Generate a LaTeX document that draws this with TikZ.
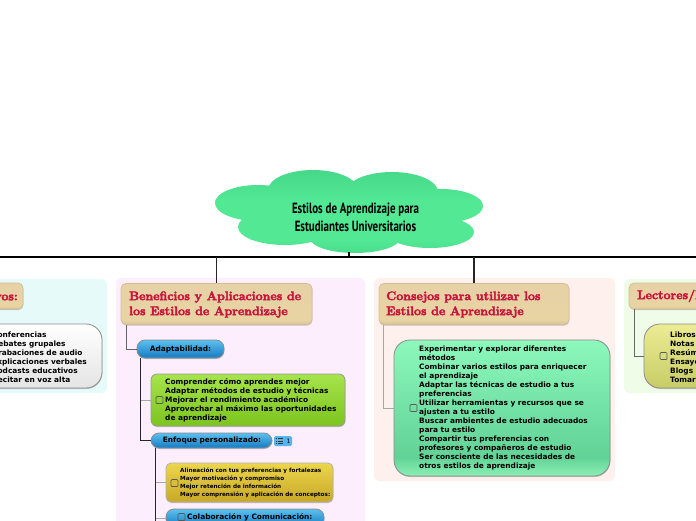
\documentclass[tikz,border=0pt]{standalone}
\usepackage{fontspec}
\usetikzlibrary{shadows}
\newfontfamily\bodyfont{DejaVu Sans}
\newfontfamily\titlefont[FakeStretch=0.74]{PT Sans}
\definecolor{headred}{HTML}{C8143C}
\definecolor{HB}{HTML}{D4C094}\definecolor{HM}{HTML}{E8D3A2}\definecolor{HT}{HTML}{E6D2A6}
\definecolor{PB}{HTML}{2A86BE}\definecolor{PM}{HTML}{1E84C8}\definecolor{PT}{HTML}{58BCEC}
\definecolor{GB}{HTML}{7CC41E}\definecolor{GT}{HTML}{A6E44C}
\definecolor{YB}{HTML}{C8A826}\definecolor{YT}{HTML}{ECD64C}
\definecolor{MB}{HTML}{8CF0B4}\definecolor{MM}{HTML}{62D296}\definecolor{MT}{HTML}{8CF8BC}
\definecolor{WB}{HTML}{E4E4E4}\definecolor{WT}{HTML}{FFFFFF}
\definecolor{LB}{HTML}{C8CC66}\definecolor{LT}{HTML}{ECEC94}
\definecolor{panelA}{HTML}{E6FAFA}\definecolor{panelB}{HTML}{FCEEFC}
\definecolor{panelC}{HTML}{FEF0ED}\definecolor{panelD}{HTML}{EEFCE8}
\definecolor{cloudA}{HTML}{46D88A}\definecolor{cloudB}{HTML}{52E894}\definecolor{cloudC}{HTML}{48DC8C}
\definecolor{badgeblue}{HTML}{5AB4EC}
\pgfdeclareverticalshading{headshade}{100bp}{color(0bp)=(HB); color(25bp)=(HB); color(30bp)=(HM); color(70bp)=(HT); color(75bp)=(HT); color(100bp)=(HT)}
\pgfdeclareverticalshading{pillshade}{100bp}{color(0bp)=(PB); color(25bp)=(PB); color(32bp)=(PM); color(72bp)=(PT); color(100bp)=(PT)}
\pgfdeclareverticalshading{greenshade}{100bp}{color(0bp)=(GB); color(25bp)=(GB); color(75bp)=(GT); color(100bp)=(GT)}
\pgfdeclareverticalshading{goldshade}{100bp}{color(0bp)=(YB); color(25bp)=(YB); color(75bp)=(YT); color(100bp)=(YT)}
\pgfdeclareverticalshading{mintshade}{100bp}{color(0bp)=(MB); color(25bp)=(MB); color(32bp)=(MM); color(75bp)=(MT); color(100bp)=(MT)}
\pgfdeclareverticalshading{whiteshade}{100bp}{color(0bp)=(WB); color(25bp)=(WB); color(75bp)=(WT); color(100bp)=(WT)}
\pgfdeclareverticalshading{limeshade}{100bp}{color(0bp)=(LB); color(25bp)=(LB); color(75bp)=(LT); color(100bp)=(LT)}
\tikzset{
  panel/.style={fill=#1,rounded corners=6pt},
  boxbase/.style={inner sep=0pt,shade,draw=#1,line width=0.8pt,drop shadow={shadow xshift=0.4pt,shadow yshift=-1pt,fill=black!45,opacity=.5}},
  headbox/.style={boxbase=HB,shading=headshade,rounded corners=5pt},
  pillbox/.style={boxbase=black!45,shading=pillshade,rounded corners=8pt},
  greenbox/.style={boxbase=black!40,shading=greenshade,rounded corners=6pt},
  goldbox/.style={boxbase=black!30,shading=goldshade,rounded corners=5pt},
  mintbox/.style={boxbase=black!45,shading=mintshade,rounded corners=16pt},
  whitebox/.style={boxbase=black!45,shading=whiteshade,rounded corners=16pt},
  limebox/.style={boxbase=black!45,shading=limeshade,rounded corners=16pt},
  headtext/.style={anchor=west,inner sep=0pt,align=left,text=headred,font=\rmfamily\bfseries\fontsize{12.4}{15}\selectfont,
    execute at begin node={\special{pdf:code 2 Tr 0.4 w .784 .078 .235 RG}},
    execute at end node={\special{pdf:code 0 Tr}}},
  bodytext/.style={anchor=west,inner sep=0pt,align=left,text=black,font=\bodyfont\bfseries\fontsize{7.4}{9}\selectfont},
  smalltext/.style={anchor=west,inner sep=0pt,align=left,text=black,font=\bodyfont\bfseries\fontsize{5.7}{8.2}\selectfont},
  pilltext/.style={inner sep=0pt,text=black,font=\bodyfont\bfseries\fontsize{7.4}{9}\selectfont},
  checkbox/.style={draw=black!65,line width=0.7pt,rounded corners=1pt,minimum size=7pt,inner sep=0pt},
  conn/.style={draw=black!60,line width=0.9pt},
  connlite/.style={draw=black!35,line width=1pt},
  connbar/.style={draw=black,line width=1.4pt},
  connmain/.style={draw=black!85,line width=1.3pt},
}
\begin{document}
\begin{tikzpicture}[x=1pt,y=-1pt]
\useasboundingbox (0,0) rectangle (696,520);
\clip (0,0) rectangle (696,520);
\fill[white] (0,0) rectangle (696,520);
% panels
\fill[panel=panelA] (-30,279) rectangle (107,393);
\fill[panel=panelB] (116,278) rectangle (365,540);
\fill[panel=panelC] (374,278) rectangle (615,481);
\fill[panel=panelD] (624,279) rectangle (730,393);
% cloud
\begin{scope}
\clip (258,203) ellipse [x radius=43pt,y radius=18pt]
      (313,190) ellipse [x radius=45pt,y radius=20pt]
      (392,192) ellipse [x radius=46pt,y radius=20pt]
      (441,206) ellipse [x radius=42pt,y radius=17pt]
      (285,227) ellipse [x radius=47pt,y radius=18pt]
      (430,232) ellipse [x radius=44pt,y radius=16pt]
      (355,238) ellipse [x radius=45pt,y radius=15pt]
      (350,212) ellipse [x radius=80pt,y radius=24pt];
\shade[top color=cloudA,bottom color=cloudB] (200,170) rectangle (490,200);
\fill[cloudB] (200,199.5) rectangle (490,240);
\shade[top color=cloudB,bottom color=cloudC] (200,239.5) rectangle (490,255);
\end{scope}
\node[inner sep=0pt,align=center,text=black,font=\titlefont\bfseries\fontsize{14.8}{18}\selectfont] (title) at (355.5,217) {Estilos de Aprendizaje para\\ Estudiantes Universitarios};
% boxes
\node[headbox,minimum width=100pt,minimum height=26pt] (hA) at (-27,296) {};
\node[headbox,minimum width=191pt,minimum height=41pt] (hB) at (216.5,304) {};
\node[headbox,minimum width=190pt,minimum height=41pt] (hC) at (474,304) {};
\node[headbox,minimum width=120pt,minimum height=26pt] (hD) at (689,296) {};
\node[whitebox,minimum width=170pt,minimum height=64pt] (wA) at (17,356) {};
\node[limebox,minimum width=150pt,minimum height=64pt] (lD) at (719,356) {};
\node[pillbox,minimum width=87pt,minimum height=18pt] (ad) at (180.5,349) {};
\node[greenbox,minimum width=194pt,minimum height=52pt] (gr) at (248,400) {};
\node[pillbox,minimum width=121pt,minimum height=15pt] (en) at (211.5,440.5) {};
\node[goldbox,minimum width=167pt,minimum height=39pt] (go) at (249.5,482.5) {};
\node[pillbox,minimum width=158pt,minimum height=18pt] (co) at (245,518) {};
\node[mintbox,minimum width=216pt,minimum height=136pt] (mi) at (502,408) {};
% connectors
\coordinate (busL) at (0,257);
\coordinate (busR) at (696,257);
\coordinate (cloudfoot) at (349,252);
\coordinate (busmid) at (349,257);
\draw[connbar] (busL) -- (busR);
\draw[connbar] (cloudfoot) -- (busmid);
\draw[connmain] (hB.north) -- (hB.north |- busL);
\draw[connmain] (hC.north) -- (hC.north |- busL);
\draw[conn] ([xshift=6pt]hB.south west) |- (ad.west);
\draw[connlite] ([xshift=5pt]hC.south west) |- (mi.west);
\draw[conn] ([xshift=6pt]hD.south west) |- (lD.west);
\draw[connmain] ([xshift=4pt]ad.south west) |- (en.west);
\draw[connlite] ([xshift=4pt]ad.south west |- gr.west) -- (gr.west);
\coordinate (enfoot) at ([xshift=5pt]en.south west);
\coordinate (enend) at ([xshift=5pt,yshift=-90pt]en.south west);
\draw[connmain] (enfoot) -- (enend);
\draw[connlite] (enfoot |- go.west) -- (go.west);
\draw[connlite] (enfoot |- co.west) -- (co.west);
% headings
\node[headtext,anchor=east] (tA) at (18,296) {Auditivos:};
\node[headtext] (tB) at (129,304.5) {Beneficios y Aplicaciones de\\los Estilos de Aprendizaje};
\node[headtext] (tC) at (386,304.5) {Consejos para utilizar los\\Estilos de Aprendizaje};
\node[headtext] (tD) at (637,296) {Lectores/Escritores:};
% body texts
\node[bodytext] (xA) at (-8,357.5) {Conferencias\\Debates grupales\\Grabaciones de audio\\Explicaciones verbales\\Podcasts educativos\\Recitar en voz alta};
\node[bodytext] (xD) at (670,357.5) {Libros\\Notas\\Resúmenes\\Ensayos\\Blogs\\Tomar};
\node[bodytext] (xG) at (165,400) {Comprender cómo aprendes mejor\\Adaptar métodos de estudio y técnicas\\Mejorar el rendimiento académico\\Aprovechar al máximo las oportunidades\\de aprendizaje};
\node[smalltext] (xY) at (180,482.7) {Alineación con tus preferencias y fortalezas\\Mayor motivación y compromiso\\Mejor retención de información\\Mayor comprensión y aplicación de conceptos:};
\node[bodytext] (xM) at (419,408.2) {Experimentar y explorar diferentes\\métodos\\Combinar varios estilos para enriquecer\\el aprendizaje\\Adaptar las técnicas de estudio a tus\\preferencias\\Utilizar herramientas y recursos que se\\ajusten a tu estilo\\Buscar ambientes de estudio adecuados\\para tu estilo\\Compartir tus preferencias con\\profesores y compañeros de estudio\\Ser consciente de las necesidades de\\otros estilos de aprendizaje};
\node[pilltext] (pA) at (180.5,349) {Adaptabilidad:};
\node[pilltext] (pE) at (212,440.5) {Enfoque personalizado:};
\node[pilltext,anchor=west] (pC) at (187,517) {Colaboración y Comunicación:};
% check boxes
\node[checkbox] (c1) at (663.5,356) {};
\node[checkbox] (c2) at (159.5,400) {};
\node[checkbox] (c3) at (174.5,483) {};
\node[checkbox] (c4) at (181.5,517) {};
\node[checkbox] (c5) at (413.5,408) {};
% badge
\node[fill=badgeblue,rounded corners=1.5pt,minimum width=18pt,minimum height=10pt,inner sep=0pt] (badge) at (283,441) {};
\node[inner sep=0pt,text=black,font=\bodyfont\fontsize{6}{6}\selectfont] (badgenum) at (288.5,441.3) {1};
\foreach \yy in {-2.6,0,2.6}{
  \draw[black!80,line width=.6pt] ([xshift=-7pt,yshift=\yy pt]badge.center) -- ([xshift=-6pt,yshift=\yy pt]badge.center);
  \draw[black!80,line width=.6pt] ([xshift=-5pt,yshift=\yy pt]badge.center) -- ([xshift=0pt,yshift=\yy pt]badge.center);
}
\end{tikzpicture}
\end{document}
